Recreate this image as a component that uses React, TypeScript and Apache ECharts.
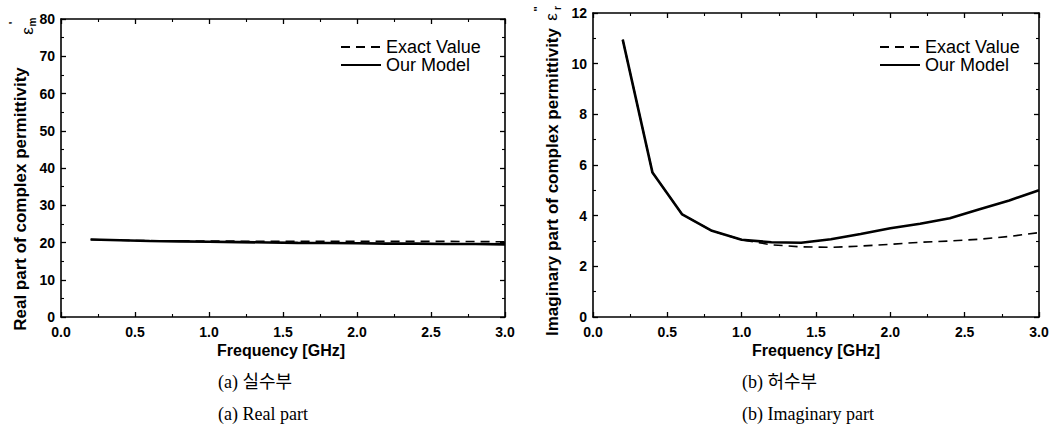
import React, { useEffect, useRef } from "react";
import * as echarts from "echarts";

const freq = [0.2, 0.4, 0.6, 0.8, 1.0, 1.2, 1.4, 1.6, 1.8, 2.0, 2.2, 2.4, 2.6, 2.8, 3.0];
const realExact = [20.8, 20.6, 20.5, 20.45, 20.4, 20.35, 20.3, 20.3, 20.3, 20.3, 20.3, 20.3, 20.3, 20.25, 20.2];
const realModel = [20.8, 20.6, 20.4, 20.3, 20.2, 20.1, 20.0, 19.9, 19.85, 19.8, 19.7, 19.7, 19.6, 19.6, 19.5];
const imagExact = [10.95, 5.7, 4.05, 3.4, 3.05, 2.85, 2.77, 2.75, 2.8, 2.87, 2.95, 3.0, 3.07, 3.18, 3.33];
const imagModel = [10.95, 5.7, 4.05, 3.4, 3.05, 2.95, 2.93, 3.07, 3.28, 3.5, 3.68, 3.9, 4.25, 4.6, 5.0];

const seriesNames = ["Exact Value", "Our Model"];
const xTitle = "Frequency [GHz]";
const yTitleReal = "Real part of complex permittivity";
const yTitleImag = "Imaginary part of complex permittivity";
const captionsA = ["(a) 실수부", "(a) Real part"];
const captionsB = ["(b) 허수부", "(b) Imaginary part"];

const SANS = "'Liberation Sans', Arial, sans-serif";
const SERIF = "'Liberation Serif', 'Times New Roman', 'Noto Sans CJK KR', serif";

function pairs(xs: number[], ys: number[]) {
  return xs.map((x, i) => [x, ys[i]]);
}

export default function App() {
  const ref = useRef<HTMLDivElement>(null);
  useEffect(() => {
    if (!ref.current) return;
    const chart = echarts.init(ref.current, null, { renderer: "svg" });

    const axisLine = { show: true, onZero: false, lineStyle: { color: "#000", width: 1.6 } };
    const tick = { show: true, inside: true, length: 5, lineStyle: { color: "#000", width: 1.3 } };
    const minor = { show: true, splitNumber: 2, length: 3, lineStyle: { color: "#000", width: 1.1 } };
    const label = { color: "#000", fontSize: 14, fontWeight: "bold" as const, fontFamily: SANS };

    const xAxisFor = (gridIndex: number, pos: "bottom" | "top") => ({
      type: "value" as const,
      gridIndex,
      position: pos,
      min: 0,
      max: 3,
      interval: 0.5,
      axisLine,
      axisTick: tick,
      minorTick: minor,
      splitLine: { show: false },
      axisLabel: pos === "bottom"
        ? { ...label, margin: 8, formatter: (v: number) => v.toFixed(1) }
        : { show: false },
    });
    const yAxisFor = (gridIndex: number, pos: "left" | "right", max: number, interval: number) => ({
      type: "value" as const,
      gridIndex,
      position: pos,
      min: 0,
      max,
      interval,
      axisLine,
      axisTick: tick,
      minorTick: minor,
      splitLine: { show: false },
      axisLabel: pos === "left" ? { ...label, margin: 6 } : { show: false },
    });

    const exactStyle = { color: "#000", width: 1.6, type: [9, 6] as any };
    const modelStyle = { color: "#000", width: 2.6, type: "solid" as const };

    const legendBase = {
      orient: "vertical" as const,
      padding: 0,
      itemWidth: 40,
      itemHeight: 12,
      itemGap: 0,
      itemStyle: { opacity: 0, color: "#000", borderWidth: 0 },
      textStyle: { color: "#000", fontSize: 18, fontFamily: SANS, lineHeight: 17 },
      data: seriesNames,
      selectedMode: false,
    };

    const rotText = (text: string, x: number, y: number, size: number, weight: any = "bold") => ({
      type: "text",
      x,
      y,
      rotation: Math.PI / 2,
      style: {
        text,
        fill: "#000",
        font: `${weight} ${size}px ${SANS}`,
        align: "center",
        verticalAlign: "middle",
      },
    });
    const text = (t: string, x: number, y: number, font: string, align = "left") => ({
      type: "text",
      x,
      y,
      style: { text: t, fill: "#000", font, align, verticalAlign: "middle" },
    });

    const common = { type: "line" as const, symbol: "none", showSymbol: false, color: "#000" };

    chart.setOption({
      animation: false,
      backgroundColor: "#fff",
      color: ["#000", "#000"],
      grid: [
        { left: 61, top: 19, width: 444, height: 298 },
        { left: 593, top: 13, width: 446, height: 304 },
      ],
      xAxis: [xAxisFor(0, "bottom"), xAxisFor(0, "top"), xAxisFor(1, "bottom"), xAxisFor(1, "top")],
      yAxis: [
        yAxisFor(0, "left", 80, 10),
        yAxisFor(0, "right", 80, 10),
        yAxisFor(1, "left", 12, 2),
        yAxisFor(1, "right", 12, 2),
      ],
      legend: [
        { ...legendBase, left: 340, top: 38 },
        { ...legendBase, left: 879, top: 38 },
      ],
      series: [
        { ...common, name: seriesNames[0], xAxisIndex: 0, yAxisIndex: 0, data: pairs(freq, realExact), lineStyle: exactStyle, z: 3 },
        { ...common, name: seriesNames[1], xAxisIndex: 0, yAxisIndex: 0, data: pairs(freq, realModel), lineStyle: modelStyle, z: 2 },
        { ...common, name: seriesNames[0], xAxisIndex: 2, yAxisIndex: 2, data: pairs(freq, imagExact), lineStyle: exactStyle, z: 3 },
        { ...common, name: seriesNames[1], xAxisIndex: 2, yAxisIndex: 2, data: pairs(freq, imagModel), lineStyle: modelStyle, z: 2 },
      ],
      graphic: [
        text(xTitle, 281, 350, `bold 16px ${SANS}`, "center"),
        text(xTitle, 816, 350, `bold 16px ${SANS}`, "center"),
        rotText(yTitleReal, 20, 199, 17),
        rotText("ε", 27, 31, 17, "normal"),
        rotText("'", 13, 23, 11, "bold"),
        rotText("m", 32, 22, 10, "bold"),
        rotText(yTitleImag, 552, 182, 17),
        rotText("ε", 551, 17, 17, "normal"),
        rotText("''", 538, 9, 11, "bold"),
        rotText("r", 557, 8, 10, "bold"),
        text(captionsA[0], 218, 382, `18px ${SERIF}`),
        text(captionsA[1], 218, 414, `18px ${SERIF}`),
        text(captionsB[0], 742, 382, `18px ${SERIF}`),
        text(captionsB[1], 742, 414, `18px ${SERIF}`),
      ],
    });
    return () => chart.dispose();
  }, []);
  return (
    <div
      ref={ref}
      style={{ position: "fixed", left: 0, top: 0, width: 1054, height: 437, background: "#fff" }}
    />
  );
}
